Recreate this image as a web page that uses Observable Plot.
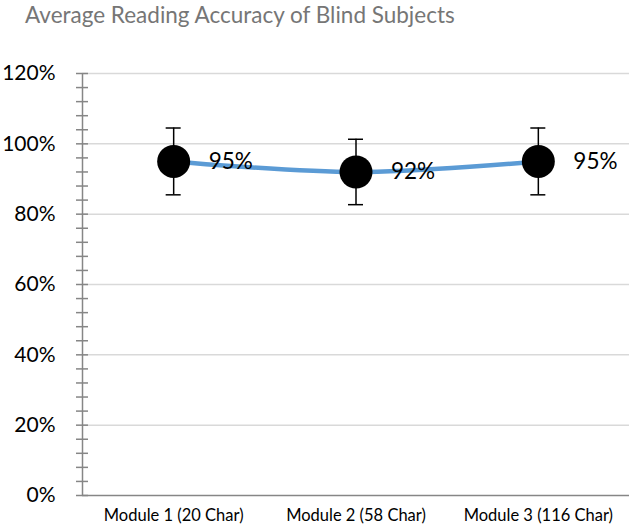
<!DOCTYPE html>
<html>
<head>
<meta charset="utf-8">
<script src="https://cdn.jsdelivr.net/npm/d3@7"></script>
<script src="https://cdn.jsdelivr.net/npm/@observablehq/plot@0.6"></script>
<style>
  html, body { margin: 0; padding: 0; background: #fff; }
  #title { height: 45px; font-family: Lato, "Open Sans", sans-serif; font-size: 22.5px; color: #767676; padding-left: 25px; line-height: 30px; white-space: nowrap; }
  svg { display: block; }
</style>
</head>
<body>
<div id="title">Average Reading Accuracy of Blind Subjects</div>
<div id="chart"></div>
<script>
const categories = ["Module 1 (20 Char)", "Module 2 (58 Char)", "Module 3 (116 Char)"];
const accuracy = [95, 92, 95];
const errorMargin = [9.5, 9.3, 9.5];
const labels = ["95%", "92%", "95%"];
const majorTicks = [0, 20, 40, 60, 80, 100, 120];
const minorTicks = d3.range(0, 121, 4);

const data = categories.map((c, i) => ({i, cat: c, v: accuracy[i], lo: accuracy[i] - errorMargin[i], hi: accuracy[i] + errorMargin[i], label: labels[i]}));

const W = 629, H = 487, ML = 82, MR = 0;
const plotW = W - ML - MR;
const unit = plotW / 3; // px per category
const capHalf = 7.5 / unit;

const chart = Plot.plot({
  width: W,
  height: H,
  marginLeft: ML,
  marginRight: MR,
  marginTop: 28,
  marginBottom: 37,
  style: {fontFamily: "Lato, 'Open Sans', sans-serif", color: "#000", background: "#fff"},
  x: {type: "linear", domain: [-0.5, 2.5]},
  y: {domain: [0, 120]},
  marks: [
    Plot.ruleY(majorTicks.filter(d => d > 0), {stroke: "#d9d9d9", strokeWidth: 1.5}),
    Plot.ruleY([0], {stroke: "#868686", strokeWidth: 1.5}),
    Plot.ruleX([-0.5], {stroke: "#868686", strokeWidth: 1.5}),
    Plot.ruleY(minorTicks, {stroke: "#868686", strokeWidth: 1.5, insetLeft: -6, insetRight: plotW - 6}),
    Plot.axisY({ticks: majorTicks, tickFormat: d => d + "%", tickSize: 0, tickPadding: 27, fontSize: 21, fill: "#000", label: null}),
    Plot.axisX({ticks: [0, 1, 2], tickFormat: i => categories[i], tickSize: 0, tickPadding: 14, fontSize: 16.5, fill: "#000", label: null}),
    Plot.line(data, {x: "i", y: "v", stroke: "#5b9bd5", strokeWidth: 4.5, curve: "catmull-rom"}),
    Plot.ruleX(data, {x: "i", y1: "lo", y2: "hi", stroke: "#000", strokeWidth: 1.5}),
    Plot.ruleY(data, {y: "hi", x1: d => d.i - capHalf, x2: d => d.i + capHalf, stroke: "#000", strokeWidth: 1.5}),
    Plot.ruleY(data, {y: "lo", x1: d => d.i - capHalf, x2: d => d.i + capHalf, stroke: "#000", strokeWidth: 1.5}),
    Plot.dot(data, {x: "i", y: "v", r: 16.5, fill: "#000", stroke: "none"}),
    Plot.text(data, {x: "i", y: "v", text: "label", dx: 35, textAnchor: "start", fontSize: 22.5, fill: "#000"})
  ]
});
document.getElementById("chart").appendChild(chart);
</script>
</body>
</html>
